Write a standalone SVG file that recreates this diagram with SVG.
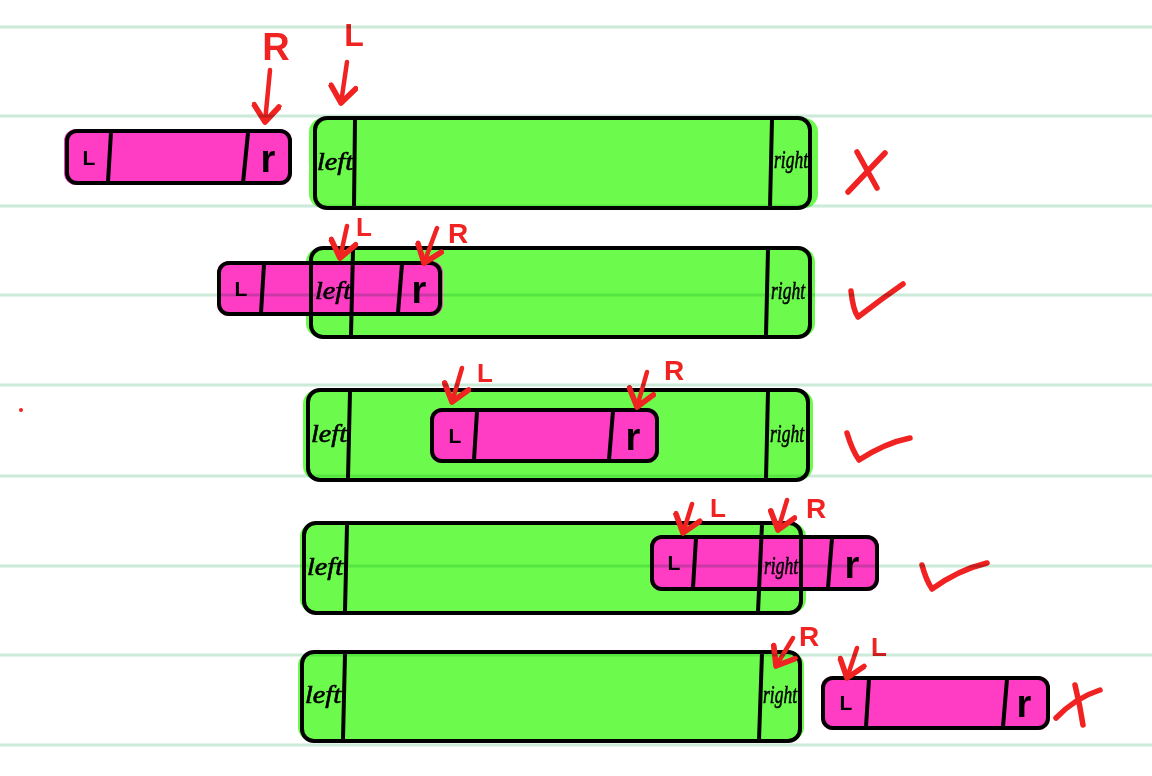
<svg xmlns="http://www.w3.org/2000/svg" width="1152" height="776" viewBox="0 0 1152 776">
<style>
.gf{fill:#6cfb4c}
.pf{fill:#fe3cc4}
.ol{fill:none;stroke:#000;stroke-width:4;stroke-linejoin:round;stroke-linecap:round}
.dv{stroke:#000;stroke-width:4;stroke-linecap:round}
.hw{font-family:"Liberation Serif",serif;font-style:italic;font-size:25px;fill:#000;stroke:#000;stroke-width:0.6;text-anchor:middle}
.cl{font-family:"Liberation Sans",sans-serif;font-weight:bold;font-size:21px;fill:#000;text-anchor:middle}
.cr{font-family:"Liberation Sans",sans-serif;font-weight:bold;font-size:38px;fill:#000;text-anchor:middle}
.rl{font-family:"Liberation Sans",sans-serif;font-weight:bold;fill:#f02222;text-anchor:middle}
.ar{fill:none;stroke:#f02222;stroke-width:4.5;stroke-linecap:round;marker-end:url(#head)}
.mk{fill:none;stroke:#f02222;stroke-width:5.5;stroke-linecap:round;stroke-linejoin:round}
.rule{stroke:#cbead8;stroke-width:3;mix-blend-mode:multiply}
</style>
<defs>
<marker id="head" markerUnits="userSpaceOnUse" markerWidth="30" markerHeight="30" refX="0" refY="0" viewBox="-16 -12 20 24" orient="auto">
<path d="M-13,-10 L0,0 L-13,10" fill="none" stroke="#f02222" stroke-width="4.5" stroke-linecap="round" stroke-linejoin="round"/>
</marker>
</defs>
<rect width="1152" height="776" fill="#fff"/>

<g id="fills">
<rect class="gf" x="309" y="118" width="509" height="90" rx="14"/>
<rect class="gf" x="306" y="248" width="509" height="89" rx="14"/>
<rect class="gf" x="303" y="390" width="510" height="90" rx="14"/>
<rect class="gf" x="300" y="523" width="506" height="90" rx="14"/>
<rect class="gf" x="298" y="652" width="506" height="89" rx="14"/>
<rect class="pf" x="64" y="129" width="228" height="56" rx="12"/>
<rect class="pf" x="217" y="261" width="226" height="55" rx="12"/>
<rect class="pf" x="430" y="408" width="229" height="55" rx="12"/>
<rect class="pf" x="650" y="535" width="229" height="56" rx="12"/>
<rect class="pf" x="821" y="676" width="229" height="54" rx="12"/>
</g>

<g id="green1">
<rect class="ol" x="315" y="118" width="495" height="90" rx="12"/>
<line class="dv" x1="355" y1="120" x2="354" y2="206"/>
<line class="dv" x1="772" y1="119" x2="770" y2="207"/>
<text class="hw" x="335" y="170" textLength="36" lengthAdjust="spacingAndGlyphs">left</text>
<text class="hw" x="791" y="168" textLength="34" lengthAdjust="spacingAndGlyphs">right</text>
</g>
<g id="pink1">
<rect class="ol" x="67" y="131" width="223" height="52" rx="10"/>
<line class="dv" x1="111" y1="132" x2="108" y2="182"/>
<line class="dv" x1="248" y1="133" x2="243" y2="183"/>
<text class="cl" x="89" y="165">L</text>
<text class="cr" x="268" y="172">r</text>
</g>

<g id="green2">
<rect class="ol" x="311" y="248" width="499" height="89" rx="12"/>
<line class="dv" x1="353" y1="250" x2="351" y2="335"/>
<line class="dv" x1="768" y1="249" x2="766" y2="336"/>
<text class="hw" x="333" y="299" textLength="36" lengthAdjust="spacingAndGlyphs">left</text>
<text class="hw" x="788" y="299" textLength="34" lengthAdjust="spacingAndGlyphs">right</text>
</g>
<g id="pink2">
<rect class="ol" x="219" y="263" width="221" height="51" rx="10"/>
<line class="dv" x1="264" y1="264" x2="261" y2="313"/>
<line class="dv" x1="402" y1="264" x2="398" y2="313"/>
<text class="cl" x="241" y="296">L</text>
<text class="cr" x="419" y="303">r</text>
</g>

<g id="green3">
<rect class="ol" x="308" y="390" width="500" height="90" rx="12"/>
<line class="dv" x1="350" y1="392" x2="348" y2="478"/>
<line class="dv" x1="768" y1="391" x2="766" y2="479"/>
<text class="hw" x="329" y="442" textLength="36" lengthAdjust="spacingAndGlyphs">left</text>
<text class="hw" x="787" y="442" textLength="34" lengthAdjust="spacingAndGlyphs">right</text>
</g>
<g id="pink3">
<rect class="ol" x="432" y="410" width="225" height="51" rx="10"/>
<line class="dv" x1="477" y1="411" x2="474" y2="460"/>
<line class="dv" x1="613" y1="411" x2="609" y2="460"/>
<text class="cl" x="455" y="443">L</text>
<text class="cr" x="633" y="450">r</text>
</g>

<g id="green4">
<rect class="ol" x="304" y="523" width="497" height="90" rx="12"/>
<line class="dv" x1="347" y1="525" x2="345" y2="611"/>
<line class="dv" x1="762" y1="524" x2="758" y2="612"/>
<text class="hw" x="325" y="575" textLength="36" lengthAdjust="spacingAndGlyphs">left</text>
<text class="hw" x="781" y="574" textLength="34" lengthAdjust="spacingAndGlyphs">right</text>
</g>
<g id="pink4">
<rect class="ol" x="652" y="537" width="225" height="52" rx="10"/>
<line class="dv" x1="696" y1="538" x2="693" y2="588"/>
<line class="dv" x1="832" y1="538" x2="828" y2="588"/>
<text class="cl" x="674" y="570">L</text>
<text class="cr" x="852" y="578">r</text>
</g>

<g id="green5">
<rect class="ol" x="302" y="652" width="498" height="89" rx="12"/>
<line class="dv" x1="345" y1="654" x2="343" y2="739"/>
<line class="dv" x1="762" y1="653" x2="759" y2="740"/>
<text class="hw" x="323" y="703" textLength="36" lengthAdjust="spacingAndGlyphs">left</text>
<text class="hw" x="780" y="703" textLength="34" lengthAdjust="spacingAndGlyphs">right</text>
</g>
<g id="pink5">
<rect class="ol" x="823" y="678" width="225" height="50" rx="10"/>
<line class="dv" x1="869" y1="679" x2="866" y2="727"/>
<line class="dv" x1="1007" y1="679" x2="1003" y2="727"/>
<text class="cl" x="846" y="710">L</text>
<text class="cr" x="1024" y="717">r</text>
</g>

<g id="connectors">
<path class="ar" d="M270,70 L265,122"/>
<path class="ar" d="M347,62 L341,103"/>
<path class="ar" d="M347,226 L340,258"/>
<path class="ar" d="M437,228 L424,263"/>
<path class="ar" d="M462,368 L452,402"/>
<path class="ar" d="M647,372 L637,407"/>
<path class="ar" d="M692,504 L683,533"/>
<path class="ar" d="M787,500 L778,530"/>
<path class="ar" d="M793,638 L776,666"/>
<path class="ar" d="M857,648 L847,678"/>
</g>

<g id="labels">
<text class="rl" x="276" y="60" font-size="38">R</text>
<text class="rl" x="354" y="46" font-size="32">L</text>
<text class="rl" x="364" y="236" font-size="26">L</text>
<text class="rl" x="458" y="243" font-size="28">R</text>
<text class="rl" x="485" y="382" font-size="26">L</text>
<text class="rl" x="674" y="380" font-size="28">R</text>
<text class="rl" x="718" y="517" font-size="26">L</text>
<text class="rl" x="816" y="518" font-size="28">R</text>
<text class="rl" x="809" y="646" font-size="28">R</text>
<text class="rl" x="879" y="656" font-size="26">L</text>
</g>

<g id="marks">
<path class="mk" d="M857,152 L877,188 M885,153 L848,192"/>
<path class="mk" d="M851,291 Q853,310 858,317 Q880,300 903,284"/>
<path class="mk" d="M847,433 Q852,450 859,460 Q885,443 910,438"/>
<path class="mk" d="M922,565 Q926,580 932,589 Q958,570 987,563"/>
<path class="mk" d="M1056,718 Q1075,698 1100,690 M1075,685 Q1080,705 1083,725"/>
<circle cx="21" cy="410" r="2" fill="#f02222"/>
</g>

<g id="rules">
<line class="rule" x1="0" y1="27" x2="1152" y2="27"/>
<line class="rule" x1="0" y1="116" x2="1152" y2="116"/>
<line class="rule" x1="0" y1="206" x2="1152" y2="206"/>
<line class="rule" x1="0" y1="295" x2="1152" y2="295"/>
<line class="rule" x1="0" y1="385" x2="1152" y2="385"/>
<line class="rule" x1="0" y1="476" x2="1152" y2="476"/>
<line class="rule" x1="0" y1="566" x2="1152" y2="566"/>
<line class="rule" x1="0" y1="655" x2="1152" y2="655"/>
<line class="rule" x1="0" y1="745" x2="1152" y2="745"/>
</g>
</svg>
